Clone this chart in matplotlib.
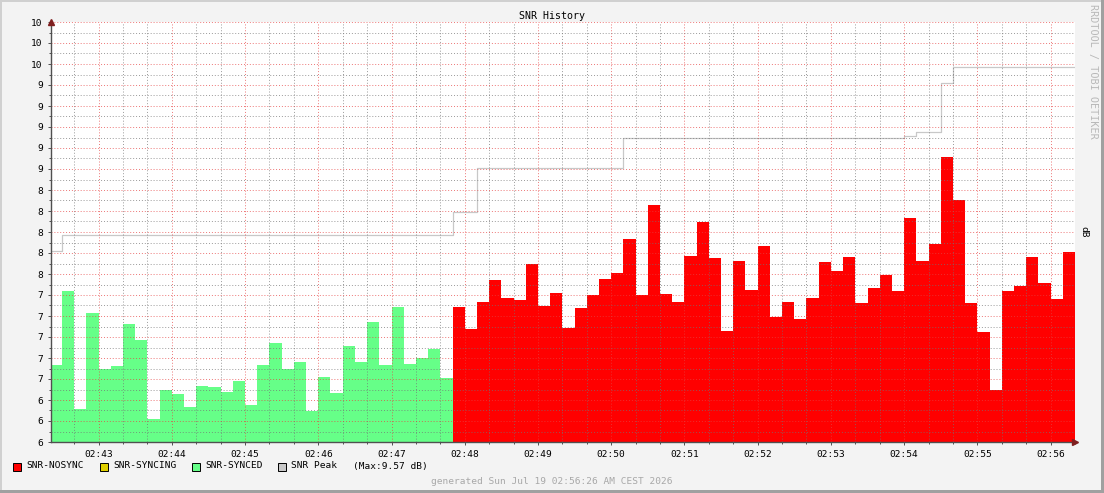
import numpy as np
import matplotlib
matplotlib.use("Agg")
import matplotlib.pyplot as plt
import matplotlib.dates as mdates
from matplotlib.patches import Rectangle
from matplotlib.ticker import MultipleLocator, FormatStrFormatter

# SNR samples, one every 10 s, starting 02:42:20
synced_vals = [6.73, 7.44, 6.31, 7.23, 6.70, 6.72, 7.12, 6.97, 6.22, 6.50,
               6.46, 6.33, 6.53, 6.52, 6.48, 6.58, 6.35, 6.73, 6.94, 6.70,
               6.76, 6.30, 6.62, 6.47, 6.91, 6.76, 7.14, 6.73, 7.29, 6.74,
               6.80, 6.89, 6.61]
nosync_vals = [7.29, 7.08, 7.33, 7.54, 7.37, 7.35, 7.70, 7.30, 7.42, 7.09,
               7.28, 7.40, 7.55, 7.61, 7.93, 7.40, 8.26, 7.41, 7.33, 7.77,
               8.10, 7.75, 7.06, 7.72, 7.45, 7.87, 7.19, 7.33, 7.17, 7.37,
               7.71, 7.63, 7.76, 7.32, 7.47, 7.59, 7.44, 8.13, 7.72, 7.89,
               8.71, 8.30, 7.32, 7.05, 6.50, 7.44, 7.49, 7.76, 7.51, 7.36,
               7.81]
peak_vals = [7.82] + [7.97] * 32 + [8.19] * 2 + [8.61] * 12 + [8.90] * 23 \
    + [8.91] + [8.95] * 2 + [9.42] + [9.57] * 10
peak_max = 9.57

start = np.datetime64("2026-07-19T02:42:20")
n = len(synced_vals) + len(nosync_vals)
edges = start + np.arange(n + 1) * np.timedelta64(10, "s")
edges = edges.astype("datetime64[ms]").astype(object)

fig = plt.figure(figsize=(11.04, 4.93), dpi=100, facecolor="#f3f3f3")
W, H = 1104, 493
ax = fig.add_axes([51 / W, 51 / H, 1024 / W, 420 / H])
ax.set_facecolor("white")

mono = "DejaVu Sans Mono"
fs = 6.8

ng = len(synced_vals)
ax.fill_between(edges[:ng + 1], synced_vals + [synced_vals[-1]], 0,
                step="post", color="#66ff88", lw=0, zorder=1)
ax.fill_between(edges[ng:], nosync_vals + [nosync_vals[-1]], 0,
                step="post", color="#ff0000", lw=0, zorder=1)
ax.step(edges, peak_vals + [peak_vals[-1]], where="post",
        color="#c8c8c8", lw=0.9, zorder=2)

ax.set_ylim(6, 10)
ax.set_xlim(np.datetime64("2026-07-19T02:42:21").astype(object),
            np.datetime64("2026-07-19T02:56:20").astype(object))

ax.yaxis.set_major_locator(MultipleLocator(0.2))
ax.yaxis.set_minor_locator(MultipleLocator(0.1))
ax.yaxis.set_major_formatter(FormatStrFormatter("%.0f"))
ax.xaxis.set_major_locator(mdates.MinuteLocator())
ax.xaxis.set_minor_locator(mdates.SecondLocator(bysecond=[0, 20, 40]))
ax.xaxis.set_major_formatter(mdates.DateFormatter("%H:%M"))

ax.set_axisbelow(False)
ax.grid(True, which="major", color=(0.9, 0.25, 0.25, 0.4), lw=0.5,
        linestyle=(0, (1.4, 2.8)), zorder=3)
ax.grid(True, which="minor", color=(0.45, 0.45, 0.45, 0.35), lw=0.5,
        linestyle=(0, (1.4, 2.8)), zorder=3)

for s in ["top", "right"]:
    ax.spines[s].set_visible(False)
for s in ["left", "bottom"]:
    ax.spines[s].set_color("#505050")
    ax.spines[s].set_linewidth(1.0)
    ax.spines[s].set_zorder(4)

ax.tick_params(which="both", colors="#505050", labelcolor="black",
               labelsize=fs, width=0.7)
ax.tick_params(axis="y", which="major", length=2, pad=4)
ax.tick_params(axis="y", which="minor", length=1.5)
ax.tick_params(axis="x", which="major", length=2.5, pad=3)
ax.tick_params(axis="x", which="minor", length=1.5)
for lab in ax.get_xticklabels() + ax.get_yticklabels():
    lab.set_fontfamily(mono)

# arrows at axis ends
ax.plot([0], [1.0], marker="^", ms=4, color="#7f1f1f", transform=ax.transAxes,
        clip_on=False, zorder=5)
ax.plot([1.0], [0], marker=">", ms=4, color="#7f1f1f", transform=ax.transAxes,
        clip_on=False, zorder=5)

fig.text(552 / W, 1 - 16 / H, "SNR History", ha="center", va="center",
         fontsize=7.2, family=mono)
fig.text(1093 / W, 1 - 4 / H, "RRDTOOL / TOBI OETIKER", ha="center", va="top",
         rotation=-90, fontsize=7.3, family=mono, color="#b8b8b8")
fig.text(1084 / W, 1 - 232 / H, "dB", ha="center", va="center",
         rotation=-90, fontsize=fs, family=mono)

# legend
legend_items = [("SNR-NOSYNC", "#ff0000", 13),
                ("SNR-SYNCING", "#e0d000", 100),
                ("SNR-SYNCED", "#66ff88", 192),
                ("SNR Peak", "#c8c8c8", 278)]
for label, col, x0 in legend_items:
    fig.patches.append(Rectangle((x0 / W, 1 - 471 / H), 8 / W, 8 / H,
                                 transform=fig.transFigure, facecolor=col,
                                 edgecolor="black", lw=0.7))
    fig.text((x0 + 13) / W, 1 - 466 / H, label, ha="left", va="center",
             fontsize=fs, family=mono)
fig.text(353 / W, 1 - 466 / H, "(Max:%.2f dB)" % peak_max, ha="left",
         va="center", fontsize=fs, family=mono)
fig.text(552 / W, 1 - 481 / H, "generated Sun Jul 19 02:56:26 AM CEST 2026",
         ha="center", va="center", fontsize=fs, family=mono, color="#a8a8a8")

# 3d frame
fig.patches.append(Rectangle((0, 1 - 2 / H), 1, 2 / H, transform=fig.transFigure,
                             facecolor="#d0d0d0", lw=0))
fig.patches.append(Rectangle((0, 0), 2 / W, 1, transform=fig.transFigure,
                             facecolor="#d0d0d0", lw=0))
fig.patches.append(Rectangle((0, 0), 1, 3 / H, transform=fig.transFigure,
                             facecolor="#a0a0a0", lw=0))
fig.patches.append(Rectangle((1 - 3 / W, 0), 3 / W, 1, transform=fig.transFigure,
                             facecolor="#a0a0a0", lw=0))

fig.savefig("out.png", dpi=100, facecolor=fig.get_facecolor())
